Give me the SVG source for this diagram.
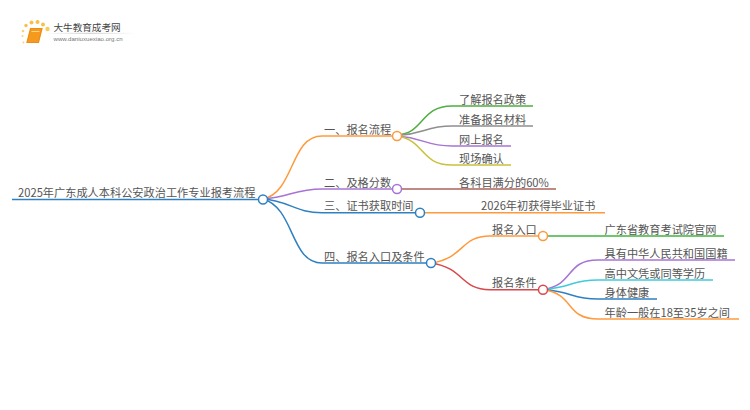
<svg xmlns="http://www.w3.org/2000/svg" width="750" height="410" viewBox="0 0 750 410">
<style>
text{font-family:"Noto Sans CJK SC","Noto Sans",sans-serif;font-size:11.2px;fill:#555}
path{fill:none;stroke-width:1.5}
circle{fill:#fff;stroke-width:1.5}
</style>
<defs><linearGradient id="fade"><stop offset="0" stop-color="#ccc" stop-opacity="0"/><stop offset=".5" stop-color="#ccc"/><stop offset="1" stop-color="#ccc" stop-opacity="0"/></linearGradient></defs>
<rect width="750" height="410" fill="#fff"/>
<g id="logo">
<circle cx="23" cy="31" r="1.300" style="fill:#f9d27a;stroke:none"/><circle cx="22.500" cy="36" r="1" style="fill:#f9d27a;stroke:none"/><circle cx="23.500" cy="42.500" r="1" style="fill:#f9d27a;stroke:none"/><circle cx="26" cy="25.500" r="1.700" style="fill:#f7c04a;stroke:none"/><circle cx="31.500" cy="22.500" r="2" style="fill:#f7c04a;stroke:none"/><circle cx="37.500" cy="22" r="2" style="fill:#f7c04a;stroke:none"/><circle cx="43" cy="24.500" r="2" style="fill:#f7c04a;stroke:none"/><circle cx="47.500" cy="29" r="2.200" style="fill:#f9cb5e;stroke:none"/>
<path d="M30.500 28.500H42L38.500 42.500H27Z" style="fill:#f59a1f;stroke:#ee8c14;stroke-width:1.200"/>
<path d="M31.500 31.500H39.500" style="stroke:#fbd68a;stroke-width:1"/>
<rect x="45" y="32.800" width="90" height="1" fill="url(#fade)"/>
<text x="53.500" y="30.500" style="font-size:9.600px;fill:#444">大牛教育成考网</text>
<text x="53.500" y="41" style="font-size:6.100px;fill:#777;font-family:'Liberation Sans',sans-serif">www.daniuxuexiao.org.cn</text>
</g>
<g id="connectors">
<path d="M12 199.500H258" stroke="#2f80c2"/>
<path d="M263 199C295 192 290 136 322 136H393" stroke="#ff9a3c"/>
<path d="M263 199C290 197 295 189 322 189H393" stroke="#a674d4"/>
<path d="M263 199C290 201 295 212.700 322 212.700H416" stroke="#2f80c2"/>
<path d="M263 199C295 208 290 263 322 263H427" stroke="#2f80c2"/>
<path d="M397 135C425 133 420 106 452 106H533" stroke="#4caf3e"/>
<path d="M397 135.500C425 134 425 126 452 126H533" stroke="#8f8f8f"/>
<path d="M397 136C425 138 425 146 452 146H511" stroke="#a674d4"/>
<path d="M397 136C425 140 420 165 452 165H511" stroke="#c8c23a"/>
<path d="M401 189H556" stroke="#a9635a"/>
<path d="M424 212.700H605" stroke="#ff9a3c"/>
<path d="M431 263C465 258 460 236 490 236H539" stroke="#ff9a3c"/>
<path d="M431 263C465 268 460 289.700 490 289.700H539" stroke="#d9474a"/>
<path d="M547 236H724" stroke="#3db53d"/>
<path d="M543 289.500C575 285 565 260 598 260H735" stroke="#a674d4"/>
<path d="M543 289.500C575 287 570 280 598 280H713" stroke="#3fcbdc"/>
<path d="M543 289.500C575 292 570 299 598 299H657" stroke="#2f80c2"/>
<path d="M543 289.500C575 294 565 319 598 319H739" stroke="#ff9a3c"/>
</g>
<g id="root"><text x="18" y="196.500">2025年广东成人本科公安政治工作专业报考流程</text><circle cx="263" cy="199.500" r="4.500" stroke="#2f80c2"/></g>
<g id="n1"><text x="324" y="133.500">一、报名流程</text><circle cx="397" cy="136" r="4.500" stroke="#ff9a3c"/></g>
<g id="n2"><text x="324" y="186.500">二、及格分数</text><circle cx="397" cy="189" r="4.500" stroke="#a674d4"/></g>
<g id="n3"><text x="324" y="210">三、证书获取时间</text><circle cx="420" cy="212.700" r="4.500" stroke="#2f80c2"/></g>
<g id="n4"><text x="324" y="260.500">四、报名入口及条件</text><circle cx="431" cy="263" r="4.500" stroke="#2f80c2"/></g>
<g id="l1"><text x="459" y="103.500">了解报名政策</text></g>
<g id="l2"><text x="459" y="123.500">准备报名材料</text></g>
<g id="l3"><text x="459" y="143.500">网上报名</text></g>
<g id="l4"><text x="459" y="162.500">现场确认</text></g>
<g id="l5"><text x="459" y="186.500">各科目满分的60%</text></g>
<g id="l6"><text x="481" y="210">2026年初获得毕业证书</text></g>
<g id="n41"><text x="492" y="233.500">报名入口</text><circle cx="543" cy="236" r="4.500" stroke="#ff9a3c"/></g>
<g id="n42"><text x="492" y="287">报名条件</text><circle cx="543" cy="289.700" r="4.500" stroke="#d9474a"/></g>
<g id="l7"><text x="604.500" y="233.500">广东省教育考试院官网</text></g>
<g id="l8"><text x="604.500" y="257.500">具有中华人民共和国国籍</text></g>
<g id="l9"><text x="604.500" y="277.500">高中文凭或同等学历</text></g>
<g id="l10"><text x="604.500" y="296.500">身体健康</text></g>
<g id="l11"><text x="604.500" y="316.500">年龄一般在18至35岁之间</text></g>
</svg>
